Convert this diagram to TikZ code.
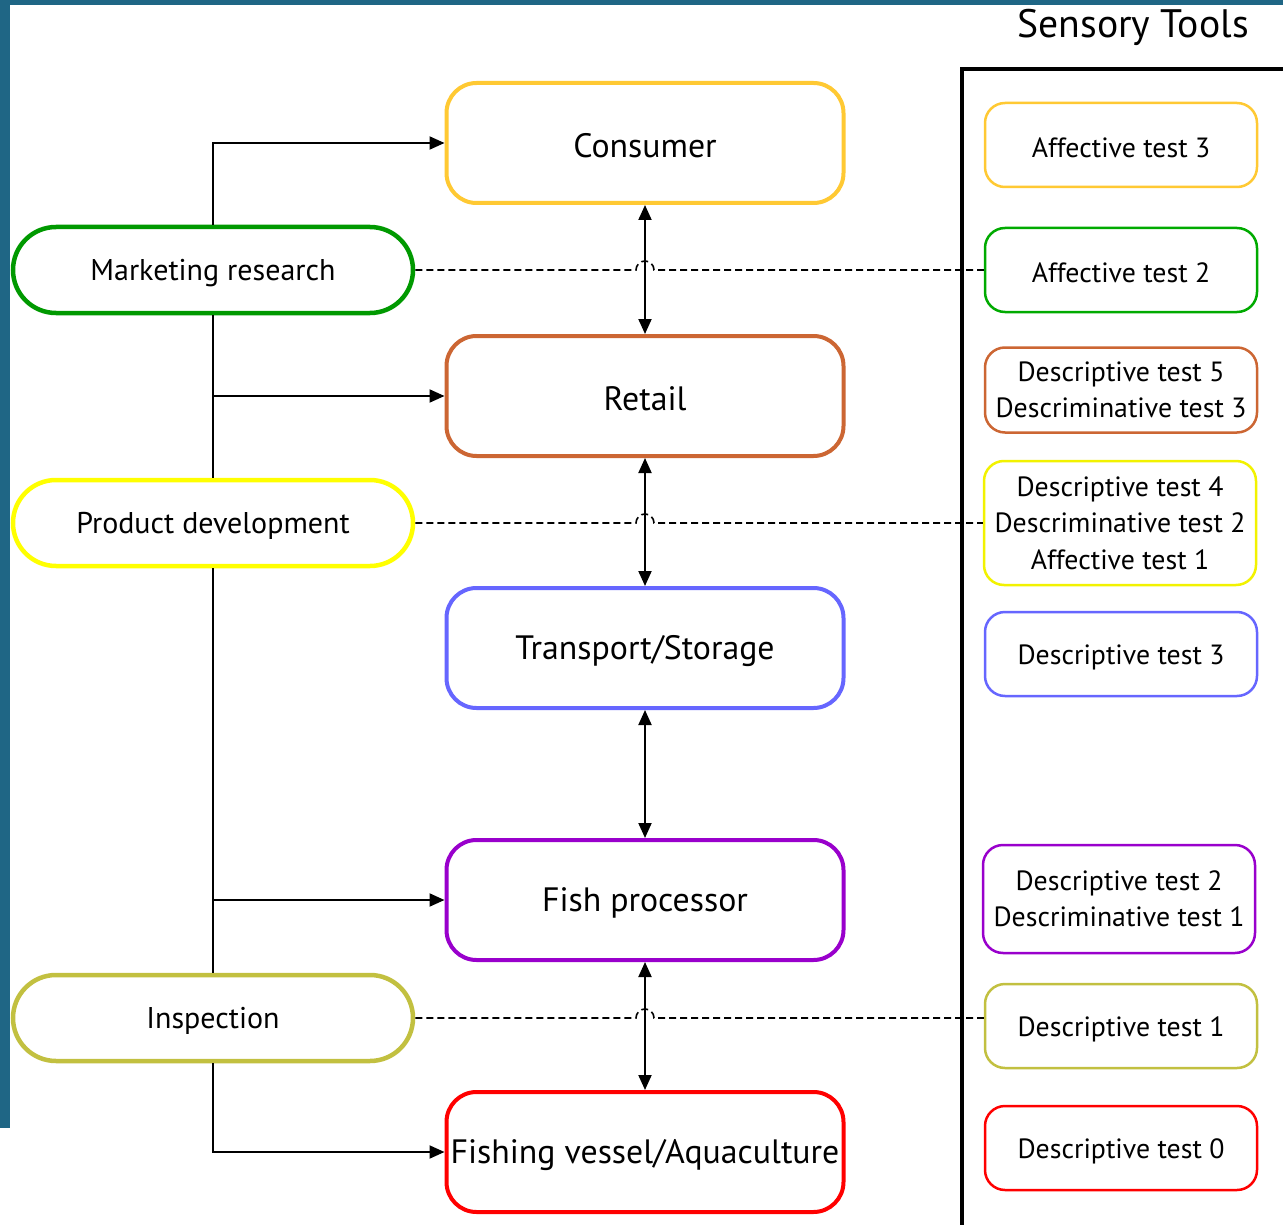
\documentclass[tikz,border=0pt]{standalone}
\usepackage{fontspec}
\setmainfont{PT Sans}
\usetikzlibrary{calc,arrows.meta}
\definecolor{frameteal}{HTML}{1F6685}
\definecolor{cgold}{HTML}{FFC933}
\definecolor{cgreen}{HTML}{009900}
\definecolor{cgreenb}{HTML}{00AA00}
\definecolor{corange}{HTML}{CC6633}
\definecolor{cyellow}{HTML}{FFFF00}
\definecolor{cyellowb}{HTML}{F2F200}
\definecolor{cblue}{HTML}{6666FF}
\definecolor{cpurple}{HTML}{9900CC}
\definecolor{cred}{HTML}{FF0000}
\definecolor{colive}{HTML}{C2C040}
\newcommand{\lowtxt}[1]{\raisebox{-3pt}[\height][\depth]{#1}}
\begin{document}
\begin{tikzpicture}[x=1pt,y=1pt,
  mainbox/.style={draw,line width=4pt,rounded corners=30pt,minimum width=397pt,minimum height=120pt,inner sep=0pt,font=\fontsize{33.8}{40}\selectfont},
  sidebox/.style={draw,line width=2.5pt,rounded corners=20pt,minimum width=272pt,minimum height=84pt,inner sep=0pt,align=center,font=\fontsize{27.8}{36.5}\selectfont},
  leftbox/.style={draw,line width=4.5pt,rounded corners=43pt,minimum width=400pt,minimum height=86pt,inner sep=0pt,font=\fontsize{30}{36}\selectfont},
  link/.style={line width=2pt,-{Triangle[length=15pt,width=13pt]}},
  plain/.style={line width=2pt},
  dbl/.style={line width=2pt,{Triangle[length=15pt,width=13pt]}-{Triangle[length=15pt,width=13pt]}},
  dashline/.style={line width=1.6pt,dash pattern=on 7pt off 4pt}]
\useasboundingbox (0,0) rectangle (1283,-1225);
\fill[white] (0,0) rectangle (1283,-1225);
\fill[frameteal] (0,0) rectangle (1283,-5);
\fill[frameteal] (0,0) rectangle (10,-1128);

\node[font=\fontsize{39.7}{46}\selectfont] (title) at (1133,-27) {Sensory Tools};
\draw[line width=4pt] (1286,-69) -- (962,-69) -- (962,-1228);

% central chain
\node[mainbox,cgold,text=black] (con) at (645,-143) {\lowtxt{Consumer}};
\node[mainbox,corange,text=black] (ret) at (645,-396) {\lowtxt{Retail}};
\node[mainbox,cblue,text=black] (tra) at (645,-648) {\lowtxt{Transport/Storage}};
\node[mainbox,cpurple,text=black] (fis) at (645,-900) {\lowtxt{Fish processor}};
\node[mainbox,cred,text=black] (ves) at (645,-1152) {\lowtxt{Fishing vessel/Aquaculture}};

% left actors
\node[leftbox,cgreen,text=black] (mr) at (213,-270) {\lowtxt{Marketing research}};
\node[leftbox,cyellow,text=black] (pd) at (213,-523) {\lowtxt{Product development}};
\node[leftbox,colive,text=black] (ins) at (213,-1018) {\lowtxt{Inspection}};

% sensory tools
\node[sidebox,cgold,text=black] (at3) at (1121,-145) {\lowtxt{Affective test 3}};
\node[sidebox,cgreenb,text=black] (at2) at (1121,-270) {\lowtxt{Affective test 2}};
\node[sidebox,corange,text=black,minimum height=85pt] (dt5) at (1121,-390) {Descriptive test 5\\Descriminative test 3};
\node[sidebox,cyellowb,text=black,minimum height=124pt] (dt4) at (1120,-523) {Descriptive test 4\\Descriminative test 2\\Affective test 1};
\node[sidebox,cblue,text=black] (dt3) at (1121,-654) {\lowtxt{Descriptive test 3}};
\node[sidebox,cpurple,text=black,minimum height=108pt] (dt2) at (1119,-899) {Descriptive test 2\\Descriminative test 1};
\node[sidebox,colive,text=black] (dt1) at (1121,-1026) {\lowtxt{Descriptive test 1}};
\node[sidebox,cred,text=black] (dt0) at (1121,-1148) {\lowtxt{Descriptive test 0}};

% vertical arrows
\draw[dbl] (con.south) -- (ret.north);
\draw[dbl] (ret.south) -- (tra.north);
\draw[dbl] (tra.south) -- (fis.north);
\draw[dbl] (fis.south) -- (ves.north);

% left trunk
\draw[link] (mr.north) |- (con.west);
\draw[plain] (mr.south) -- (pd.north);
\coordinate (j1) at (mr.south |- ret.west);
\draw[link] (j1) -- (ret.west);
\draw[plain] (pd.south) -- (ins.north);
\coordinate (j2) at (pd.south |- fis.west);
\draw[link] (j2) -- (fis.west);
\draw[link] (ins.south) |- (ves.west);

% dashed links with hops
\draw[dashline] (mr.east) -- ($(mr.east -| con.center)+(-9,0)$) arc[start angle=180,end angle=0,radius=9pt] -- (at2.west);
\draw[dashline] (pd.east) -- ($(pd.east -| con.center)+(-9,0)$) arc[start angle=180,end angle=0,radius=9pt] -- (dt4.west);
\draw[dashline] (ins.east) -- ($(ins.east -| con.center)+(-9,0)$) arc[start angle=180,end angle=0,radius=9pt] -- (dt1.west |- ins.east);
\end{tikzpicture}
\end{document}
